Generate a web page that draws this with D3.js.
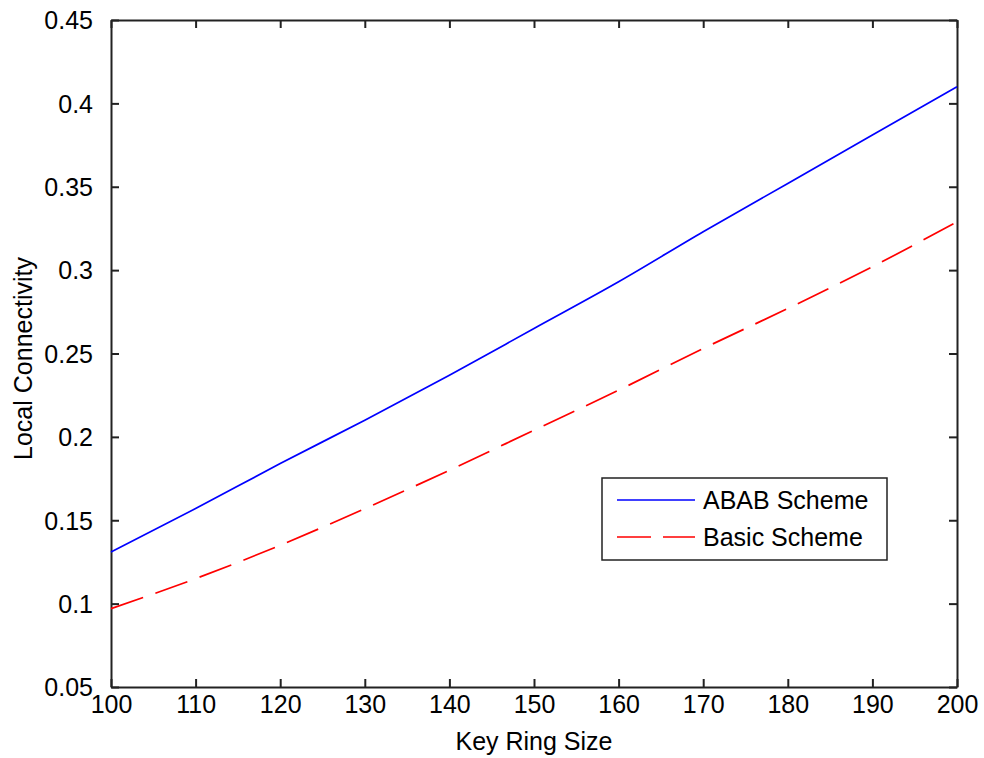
<!DOCTYPE html>
<html><head><meta charset="utf-8">
<script src="https://cdn.jsdelivr.net/npm/d3@7"></script>
<style>
body{margin:0;background:#fff;}
text{font-family:"Liberation Sans",Arial,sans-serif;fill:#000;}
</style></head>
<body><svg id="c" width="984" height="758"></svg>
<script>
const keyRingSize = [100,110,120,130,140,150,160,170,180,190,200];
const ababScheme  = [0.131,0.157,0.184,0.210,0.237,0.265,0.293,0.323,0.352,0.381,0.410];
const basicScheme = [0.097,0.115,0.135,0.157,0.180,0.204,0.228,0.253,0.277,0.302,0.329];
const xTicks = [100,110,120,130,140,150,160,170,180,190,200];
const yTicks = [0.05,0.1,0.15,0.2,0.25,0.3,0.35,0.4,0.45];
const seriesNames = ["ABAB Scheme","Basic Scheme"];

const svg = d3.select("#c");
const L=111, R=957, T=20, B=687;
const x = d3.scaleLinear().domain([100,200]).range([L,R]);
const y = d3.scaleLinear().domain([0.05,0.45]).range([B,T]);
const fs = 25;
const axisCol = "#222";

// axes with inward ticks
const gB = svg.append("g").attr("transform",`translate(0,${B})`)
  .call(d3.axisBottom(x).tickValues(xTicks).tickSizeInner(-8).tickSizeOuter(0).tickPadding(18).tickFormat(d3.format("d")));
const gT = svg.append("g").attr("transform",`translate(0,${T})`)
  .call(d3.axisTop(x).tickValues(xTicks).tickSizeInner(-8).tickSizeOuter(0).tickFormat(""));
const gL = svg.append("g").attr("transform",`translate(${L},0)`)
  .call(d3.axisLeft(y).tickValues(yTicks).tickSizeInner(-8).tickSizeOuter(0).tickPadding(18).tickFormat(d=>String(+d.toFixed(2))));
const gR = svg.append("g").attr("transform",`translate(${R},0)`)
  .call(d3.axisRight(y).tickValues(yTicks).tickSizeInner(-8).tickSizeOuter(0).tickFormat(""));
[gB,gT,gL,gR].forEach(g=>{
  g.selectAll(".domain").attr("stroke",axisCol).attr("stroke-width",2);
  g.selectAll(".tick line").attr("stroke",axisCol).attr("stroke-width",2);
  g.selectAll("text").style("font-size",fs+"px").attr("fill","#000").style("font-family","'Liberation Sans',Arial,sans-serif");
});
gL.selectAll(".tick text").attr("dy","0.35em");
gB.selectAll(".tick text").attr("dy","0.71em").attr("y",8);

// lines
const line = d3.line().curve(d3.curveMonotoneX).x((d,i)=>x(keyRingSize[i])).y(d=>y(d));
svg.append("path").datum(ababScheme).attr("d",line).attr("fill","none")
  .attr("stroke","#0000ff").attr("stroke-width",1.7);
svg.append("path").datum(basicScheme).attr("d",line).attr("fill","none")
  .attr("stroke","#ff0000").attr("stroke-width",1.7).attr("stroke-dasharray","34,13");

// axis labels
svg.append("text").attr("x",(L+R)/2).attr("y",750).attr("text-anchor","middle")
  .style("font-size",fs+"px").text("Key Ring Size");
svg.append("text").attr("transform",`translate(32,${(T+B)/2+5}) rotate(-90)`).attr("text-anchor","middle")
  .style("font-size",fs+"px").text("Local Connectivity");

// legend
const lg = svg.append("g");
lg.append("rect").attr("x",602).attr("y",478).attr("width",285).attr("height",82)
  .attr("fill","#fff").attr("stroke",axisCol).attr("stroke-width",1.5);
const cols = ["#0000ff","#ff0000"], dash=[null,"34,12"];
seriesNames.forEach((n,i)=>{
  const yy = 500 + i*37;
  lg.append("line").attr("x1",617).attr("x2",695).attr("y1",yy).attr("y2",yy)
    .attr("stroke",cols[i]).attr("stroke-width",1.7).attr("stroke-dasharray",dash[i]);
  lg.append("text").attr("x",703).attr("y",yy).attr("dy","0.35em")
    .style("font-size",fs+"px").text(n);
});
</script></body></html>
